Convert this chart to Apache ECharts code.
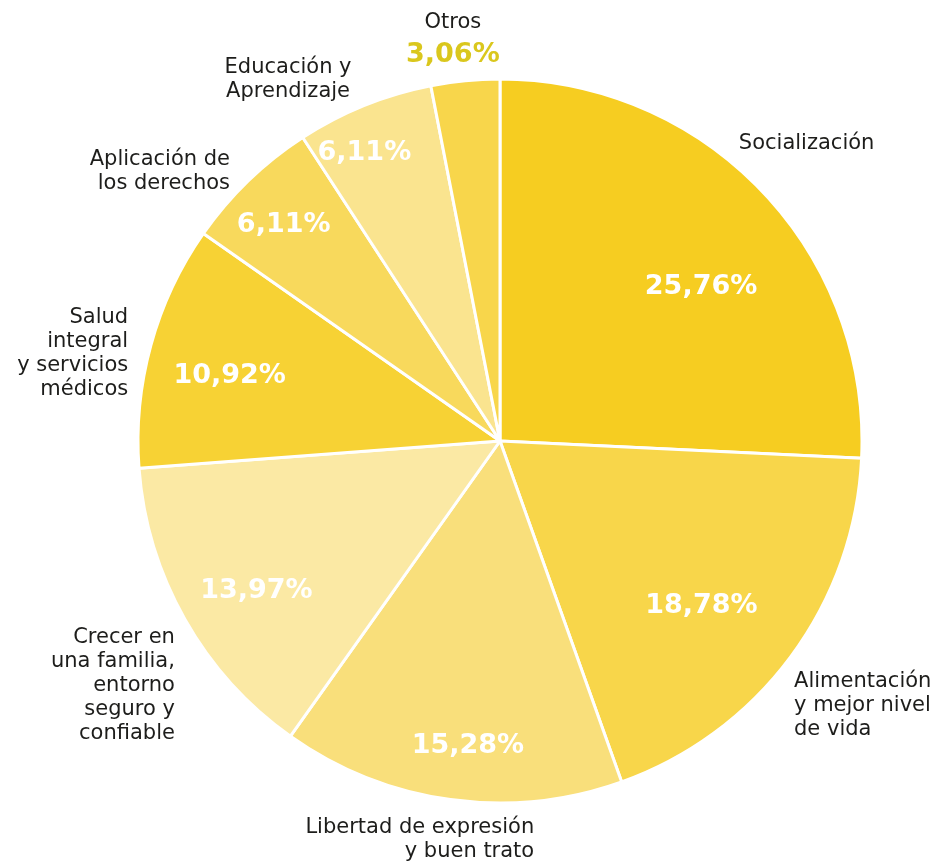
<!DOCTYPE html>
<html><head><meta charset="utf-8">
<script src="https://cdn.jsdelivr.net/npm/echarts/dist/echarts.min.js"></script>
<style>html,body{margin:0;padding:0;background:#fff}#c{width:939px;height:862px}</style>
</head><body><div id="c"></div>
<script>
// ---- data ----
const categories = [
  'Socialización',
  'Alimentación\ny mejor nivel\nde vida',
  'Libertad de expresión\ny buen trato',
  'Crecer en\nuna familia,\nentorno\nseguro y\nconfiable',
  'Salud\nintegral\ny servicios\nmédicos',
  'Aplicación de\nlos derechos',
  'Educación y\nAprendizaje',
  'Otros'
];
const values = [25.76, 18.78, 15.28, 13.97, 10.92, 6.11, 6.11, 3.06];
const outsidePercent = [false, false, false, false, false, false, false, true];

// ---- styles / layout ----
const colors = ['#F6CD21', '#F8D64A', '#F9DF7B', '#FBE9A4', '#F7D234', '#F8D95C', '#FAE48F', '#F8D64B'];
const CX = 500, CY = 441, R = 362;
// [angle from 12 o'clock (deg, clockwise), radius factor]
const innerPlace = [[52.5, 0.70], [129.4, 0.72], [186, 0.848], [238.4, 0.79], [283.5, 0.768], [315, 0.845], [334.8, 0.88], [0, 0]];
const outerPlace = [[38.8, 1.053, 'left'], [132.0, 1.093, 'left'], [175.1, 1.106, 'right'], [233.1, 1.123, 'right'],
                    [283.2, 1.055, 'right'], [314.9, 1.053, 'right'], [329.6, 1.157, 'center'], [353.3, 1.116, 'center']];
function polar(a, f) { const t = a * Math.PI / 180; return [CX + R * f * Math.sin(t), CY - R * f * Math.cos(t)]; }
function fmt(v) { return v.toFixed(2).replace('.', ',') + '%'; }

const chart = echarts.init(document.getElementById('c'), null, { renderer: 'canvas' });
const TEXT = '#1d1d1b';
const option = {
  animation: false,
  series: [
    {
      type: 'pie', silent: true, center: [CX, CY], radius: R, startAngle: 90, clockwise: true,
      avoidLabelOverlap: false, z: 1,
      itemStyle: { color: 'rgba(0,0,0,0)', borderWidth: 0 },
      labelLine: { show: false },
      label: {
        show: true, position: 'outside', color: TEXT, fontFamily: 'DejaVu Sans', fontSize: 21, lineHeight: 24,
        formatter: p => outsidePercent[p.dataIndex] ? '{n|' + p.name + '}\n{p|' + fmt(p.value) + '}' : p.name,
        rich: {
          n: { color: TEXT, fontFamily: 'DejaVu Sans', fontSize: 21, lineHeight: 30 },
          p: { color: '#DAC71D', fontFamily: 'DejaVu Sans', fontWeight: 'bold', fontSize: 27, lineHeight: 34 }
        }
      },
      labelLayout: p => {
        const o = outerPlace[p.dataIndex]; const xy = polar(o[0], o[1]);
        return { x: xy[0], y: xy[1], align: o[2], verticalAlign: 'middle', hideOverlap: false, moveOverlap: false };
      },
      data: values.map((v, i) => ({ name: categories[i], value: v }))
    },
    {
      type: 'pie', silent: true, center: [CX, CY], radius: R, startAngle: 90, clockwise: true,
      avoidLabelOverlap: false, z: 2,
      itemStyle: { borderColor: '#ffffff', borderWidth: 3 },
      labelLine: { show: false },
      label: {
        show: true, position: 'inside', color: '#ffffff', fontFamily: 'DejaVu Sans', fontWeight: 'bold', fontSize: 27,
        formatter: p => outsidePercent[p.dataIndex] ? '' : fmt(p.value)
      },
      labelLayout: p => {
        const o = innerPlace[p.dataIndex]; const xy = polar(o[0], o[1]);
        return { x: xy[0], y: xy[1], align: 'center', verticalAlign: 'middle', hideOverlap: false, moveOverlap: false };
      },
      data: values.map((v, i) => ({ name: categories[i], value: v, itemStyle: { color: colors[i] } }))
    }
  ]
};
chart.setOption(option);
</script>
</body></html>
